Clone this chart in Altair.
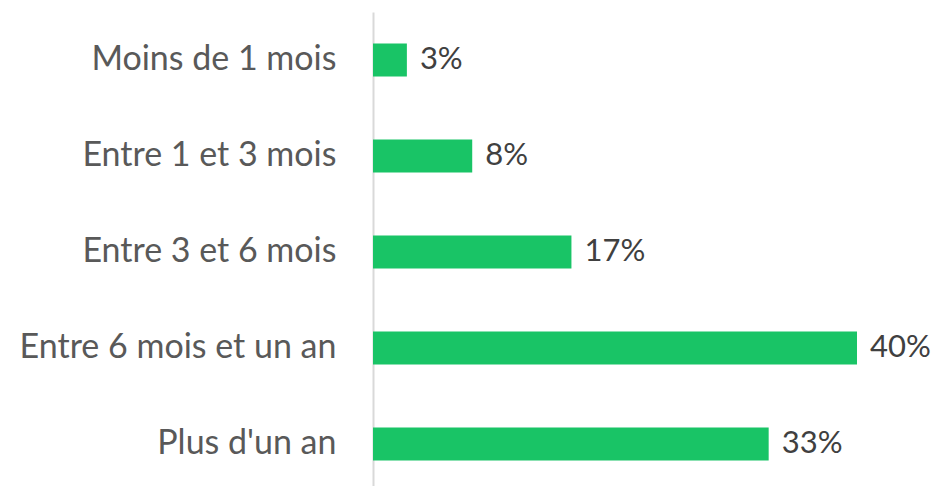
import altair as alt
import pandas as pd

categories = ["Moins de 1 mois", "Entre 1 et 3 mois", "Entre 3 et 6 mois",
              "Entre 6 mois et un an", "Plus d'un an"]
values = [2.8, 8.2, 16.4, 40.0, 32.7]
labels = ["3%", "8%", "17%", "40%", "33%"]

df = pd.DataFrame({"cat": categories, "value": values, "label": labels})

FONT = "Lato"

y = alt.Y("cat:N", sort=categories, title=None,
          scale=alt.Scale(paddingInner=0, paddingOuter=0),
          axis=alt.Axis(domain=True, domainColor="#d9d9d9", domainWidth=2,
                        ticks=False, labelFontSize=34, labelFont=FONT,
                        labelColor="#595959", labelPadding=37, labelLimit=400))
x = alt.X("value:Q", title=None, scale=alt.Scale(domain=[0, 40], nice=False),
          axis=None)

bars = alt.Chart(df).mark_bar(size=33, color="#19C466").encode(x=x, y=y)
text = alt.Chart(df).mark_text(align="left", baseline="middle", dx=13,
                               fontSize=31, font=FONT, color="#404040").encode(
    x=x, y=y, text="label:N")

chart = (bars + text).properties(
    width=484, height=480,
    autosize=alt.AutoSizeParams(type="none"),
    padding={"left": 365, "top": 4, "right": 78, "bottom": 0},
).configure_view(stroke=None)

chart.save("out.html", embed_options={"renderer": "svg", "actions": False})
